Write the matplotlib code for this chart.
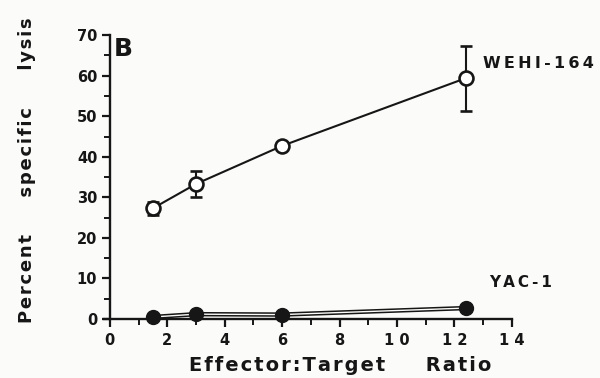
import numpy as np
import matplotlib
matplotlib.use("Agg")
import matplotlib.pyplot as plt

plt.rcParams['font.family'] = ['DejaVu Sans']
plt.rcParams['font.weight'] = 'bold'

# effector:target ratios
ratio = [1.5, 3, 6, 12.4]
# WEHI-164 percent specific lysis (open circles) with error
wehi = [27.3, 33.3, 42.7, 59.4]
wehi_err = [1.6, 3.2, 0.8, 8.0]
# YAC-1 (filled circles)
yac = [0.5, 1.2, 1.1, 2.7]

xticks = [0, 2, 4, 6, 8, 10, 12, 14]
xtick_labels = ['0', '2', '4', '6', '8', '1 0', '1 2', '1 4']
yticks = [0, 10, 20, 30, 40, 50, 60, 70]

ink = '#161616'
paper = '#fbfbf9'


def spaced(s, sep='\u200a'):
    # rough letter spacing for the typeset look
    return sep.join(s)


fig = plt.figure(figsize=(6, 3.78), dpi=100)
fig.patch.set_facecolor(paper)
ax = fig.add_axes([0.183, 0.156, 0.67, 0.751])
ax.set_facecolor(paper)

# YAC-1: thick black line with white core -> double line look
ax.plot(ratio, yac, color=ink, lw=3.2, zorder=2, solid_capstyle='butt')
ax.plot(ratio, yac, color=paper, lw=1.0, zorder=2.1)
ax.plot(ratio, yac, 'o', color=ink, ms=10, zorder=3, clip_on=False)

ax.errorbar(ratio, wehi, yerr=wehi_err, color=ink, lw=1.5,
            elinewidth=1.5, capsize=4, capthick=1.7, marker='o', ms=10,
            mfc='white', mec=ink, mew=1.9, zorder=4)

ax.set_xlim(0, 14)
ax.set_ylim(0, 70)
ax.set_xticks(xticks)
ax.set_xticklabels(xtick_labels)
ax.set_xticks(np.arange(1, 14, 2), minor=True)
ax.set_yticks(yticks)
ax.set_yticks(np.arange(5, 70, 10), minor=True)

for s in ['top', 'right']:
    ax.spines[s].set_visible(False)
for s in ['left', 'bottom']:
    ax.spines[s].set_linewidth(1.7)
    ax.spines[s].set_color(ink)
ax.spines['bottom'].set_bounds(-0.2, 14)

ax.tick_params(which='major', length=6, width=1.6, color=ink,
               labelsize=10.5, labelcolor=ink)
ax.tick_params(which='minor', length=4, width=1.4, color=ink)
ax.tick_params(axis='x', pad=4)
ax.tick_params(axis='y', pad=3)

# axis titles placed where they sit in the original figure
fig.text(0.567, 0.032, spaced('Effector:Target') + '      ' + spaced('Ratio'),
         fontsize=14, fontweight='bold', color=ink, ha='center', va='center')
fig.text(0.045, 0.55, spaced('Percent') + '      ' + spaced('specific')
         + '      ' + spaced('lysis'), fontsize=13, fontweight='bold',
         color=ink, ha='center', va='center', rotation=90)

ax.text(0.15, 64.8, 'B', fontsize=18, fontweight='bold', color=ink)
ax.text(13.0, 63.0, spaced('WEHI-164', '\u2009'), fontsize=11.5,
        fontweight='bold', color=ink, va='center')
ax.text(13.2, 9.0, spaced('YAC-1', '\u2009'), fontsize=11,
        fontweight='bold', color=ink, va='center')

fig.savefig('out.png', dpi=100, facecolor=fig.get_facecolor())
